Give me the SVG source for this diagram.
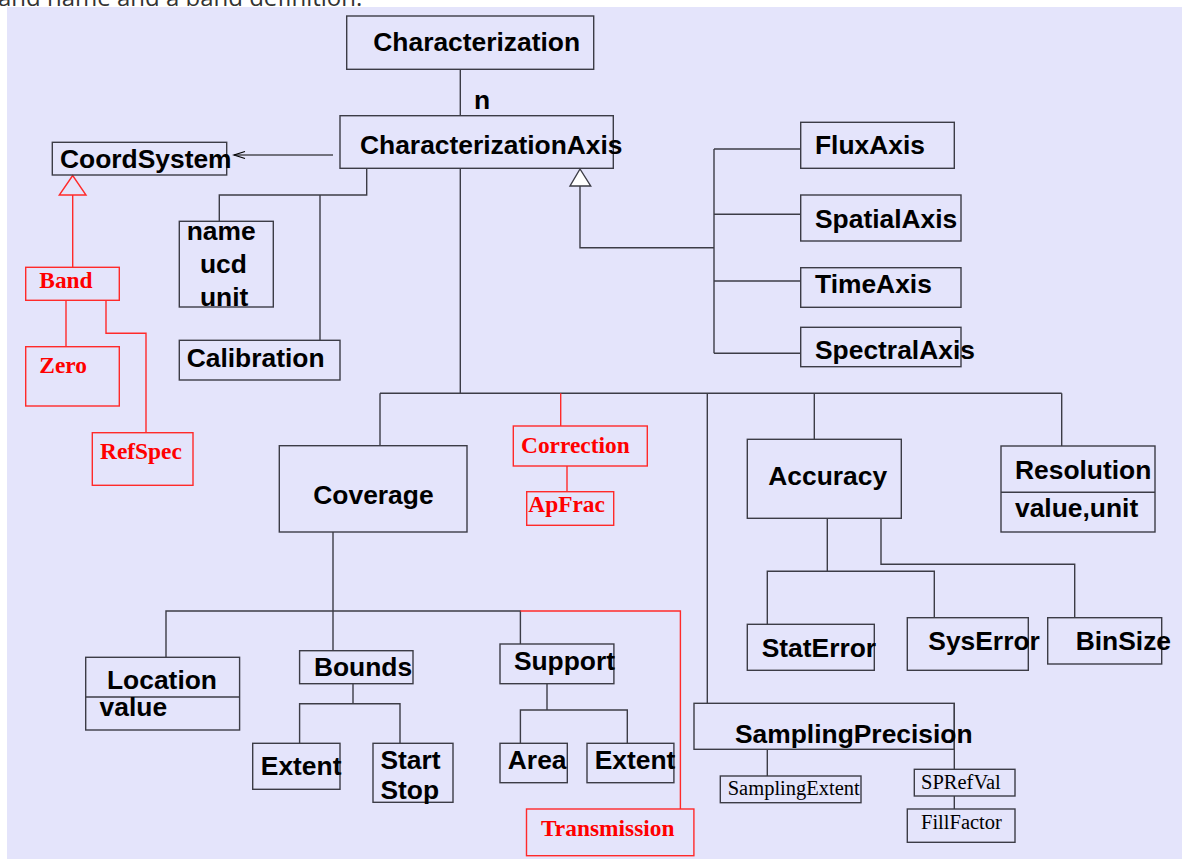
<svg xmlns="http://www.w3.org/2000/svg" width="1182" height="859" viewBox="0 0 1182 859">
<style>
.bx{fill:none;stroke:#3c3c46;stroke-width:1.4}
.rb{fill:none;stroke:#ff2a2a;stroke-width:1.4}
.ln{fill:none;stroke:#3c3c46;stroke-width:1.4}
.rl{fill:none;stroke:#ff2a2a;stroke-width:1.4}
.t{font-family:"Liberation Sans",Arial,sans-serif;font-weight:bold;font-size:26.4px;fill:#000}
.r{font-family:"Liberation Serif","Times New Roman",serif;font-weight:bold;font-size:23.4px;fill:#ff0000}
.s{font-family:"Liberation Serif","Times New Roman",serif;font-size:20.5px;fill:#000}
</style>
<rect x="0" y="0" width="1182" height="859" fill="#ffffff"/>
<rect x="7" y="7" width="1175" height="852" fill="#e4e4fb"/>
<text x="-2" y="6" font-family="'Open Sans','Noto Sans',sans-serif" font-size="24" fill="#333">and name and a band definition.</text>

<g id="connectors">
<line class="ln" x1="460.3" y1="69.3" x2="460.3" y2="115.7"/>
<text class="t" x="474" y="109">n</text>
<line x1="333" y1="155" x2="234" y2="155" stroke="#000" stroke-width="1.2"/>
<polyline points="245,151.5 234,155 245,158.5" fill="none" stroke="#000" stroke-width="1.2"/>
<polyline class="rl" points="72.7,195 72.7,267.3"/>
<polygon points="72.7,175.5 59.3,195 86,195" fill="none" stroke="#ff2a2a" stroke-width="1.4"/>
<line class="rl" x1="66" y1="300.3" x2="66" y2="346.7"/>
<polyline class="rl" points="106,300.3 106,333.3 146,333.3 146,432.7"/>
<polyline class="ln" points="366.7,168.3 366.7,195 219.3,195 219.3,221.3"/>
<line class="ln" x1="320" y1="195" x2="320" y2="340.3"/>
<polygon points="580,169 570,186 590.7,186" fill="#fff" stroke="#3c3c46" stroke-width="1.4"/>
<polyline class="ln" points="580,186 580,247.7 714,247.7"/>
<line class="ln" x1="714" y1="149" x2="714" y2="353.3"/>
<line class="ln" x1="714" y1="149" x2="800.7" y2="149"/>
<line class="ln" x1="714" y1="214.3" x2="800.7" y2="214.3"/>
<line class="ln" x1="714" y1="281" x2="800.7" y2="281"/>
<line class="ln" x1="714" y1="353.3" x2="800.7" y2="353.3"/>
<line class="ln" x1="460.3" y1="168.3" x2="460.3" y2="393.3"/>
<line class="ln" x1="380" y1="393.3" x2="1061.7" y2="393.3"/>
<line class="ln" x1="380" y1="393.3" x2="380" y2="446"/>
<line class="rl" x1="560.7" y1="393.3" x2="560.7" y2="426"/>
<line class="rl" x1="567" y1="466" x2="567" y2="491.7"/>
<line class="ln" x1="707.3" y1="393.3" x2="707.3" y2="703.3"/>
<line class="ln" x1="814.3" y1="393.3" x2="814.3" y2="439.3"/>
<line class="ln" x1="1061.7" y1="393.3" x2="1061.7" y2="446"/>
<polyline class="ln" points="827.3,518.3 827.3,571.3"/>
<polyline class="ln" points="767.3,624.3 767.3,571.3 934.3,571.3 934.3,617.7"/>
<polyline class="ln" points="881,518.3 881,564.3 1074.7,564.3 1074.7,617.7"/>
<line class="ln" x1="333" y1="532" x2="333" y2="650.7"/>
<polyline class="ln" points="166,657.3 166,611 520.4,611 520.4,644"/>
<polyline class="rl" points="520.4,611 680.4,611 680.4,809"/>
<line class="ln" x1="353" y1="683.7" x2="353" y2="703.7"/>
<polyline class="ln" points="299.6,743.3 299.6,703.7 400,703.7 400,743.3"/>
<line class="ln" x1="547" y1="683.7" x2="547" y2="710"/>
<polyline class="ln" points="520.4,743.3 520.4,710 627.3,710 627.3,743.3"/>
<line class="ln" x1="954.3" y1="703.3" x2="954.3" y2="769.3"/>
<line class="ln" x1="767.3" y1="749.3" x2="767.3" y2="776"/>
<line class="ln" x1="954.3" y1="796" x2="954.3" y2="809"/>
</g>

<g id="characterization"><rect class="bx" x="346.7" y="16" width="247" height="53.3"/><text class="t" x="373.3" y="50.7">Characterization</text></g>
<g id="characterizationaxis"><rect class="bx" x="340" y="115.7" width="273.3" height="52.6"/><text class="t" x="360" y="154.3">CharacterizationAxis</text></g>
<g id="coordsystem"><rect class="bx" x="52.3" y="142.3" width="174.4" height="32.7"/><text class="t" x="60" y="168.3">CoordSystem</text></g>
<g id="band"><rect class="rb" x="25.7" y="267.3" width="93.6" height="33"/><text class="r" x="39.3" y="287.7">Band</text></g>
<g id="zero"><rect class="rb" x="25.7" y="346.7" width="93.6" height="59.3"/><text class="r" x="39.3" y="372.7">Zero</text></g>
<g id="refspec"><rect class="rb" x="92.3" y="432.7" width="100.7" height="52.6"/><text class="r" x="100" y="459">RefSpec</text></g>
<g id="nameucdunit"><rect class="bx" x="179.3" y="221.3" width="94" height="85.7"/><text class="t" x="186.7" y="240">name</text><text class="t" x="200" y="273.3">ucd</text><text class="t" x="200" y="306">unit</text></g>
<g id="calibration"><rect class="bx" x="179.3" y="340.3" width="160.7" height="39.7"/><text class="t" x="186.7" y="366.7">Calibration</text></g>
<g id="fluxaxis"><rect class="bx" x="800.7" y="122.3" width="153.6" height="46"/><text class="t" x="815" y="154.3">FluxAxis</text></g>
<g id="spatialaxis"><rect class="bx" x="800.7" y="195" width="160.3" height="46"/><text class="t" x="815" y="227.7">SpatialAxis</text></g>
<g id="timeaxis"><rect class="bx" x="800.7" y="267.7" width="160.3" height="39.6"/><text class="t" x="815" y="293.3">TimeAxis</text></g>
<g id="spectralaxis"><rect class="bx" x="800.7" y="327.3" width="160.3" height="39.4"/><text class="t" x="815" y="359.3">SpectralAxis</text></g>
<g id="coverage"><rect class="bx" x="279.3" y="445.7" width="187.7" height="86.3"/><text class="t" x="313.3" y="504.3">Coverage</text></g>
<g id="correction"><rect class="rb" x="513.3" y="426" width="134" height="40"/><text class="r" x="521" y="452.7">Correction</text></g>
<g id="apfrac"><rect class="rb" x="526.7" y="491.7" width="87" height="33.6"/><text class="r" x="528.3" y="511.7">ApFrac</text></g>
<g id="accuracy"><rect class="bx" x="747.3" y="439.3" width="154" height="79"/><text class="t" x="768.3" y="485.3">Accuracy</text></g>
<g id="resolution"><rect class="bx" x="1001" y="446" width="154" height="86"/><line class="ln" x1="1001" y1="492.3" x2="1155" y2="492.3"/><text class="t" x="1015" y="478.7">Resolution</text><text class="t" x="1015" y="517.3">value,unit</text></g>
<g id="staterror"><rect class="bx" x="747.3" y="624.3" width="127" height="46"/><text class="t" x="761.7" y="656.7">StatError</text></g>
<g id="syserror"><rect class="bx" x="907.3" y="617.7" width="121" height="52.6"/><text class="t" x="928.3" y="650">SysError</text></g>
<g id="binsize"><rect class="bx" x="1047.7" y="617.7" width="114" height="46.3"/><text class="t" x="1075.7" y="650">BinSize</text></g>
<g id="location"><rect class="bx" x="85.7" y="657.3" width="153.9" height="72.7"/><line class="ln" x1="85.7" y1="697" x2="239.6" y2="697"/><text class="t" x="107" y="689.3">Location</text><text class="t" x="99.6" y="716">value</text></g>
<g id="bounds"><rect class="bx" x="299.6" y="650.7" width="113.4" height="33"/><text class="t" x="313.9" y="676">Bounds</text></g>
<g id="support"><rect class="bx" x="500" y="644" width="113.9" height="39.7"/><text class="t" x="513.9" y="670">Support</text></g>
<g id="extent1"><rect class="bx" x="252.7" y="743.3" width="87.3" height="46"/><text class="t" x="260.8" y="775">Extent</text></g>
<g id="startstop"><rect class="bx" x="373" y="743.3" width="80" height="59"/><text class="t" x="380.4" y="769.3">Start</text><text class="t" x="380.4" y="799.3">Stop</text></g>
<g id="area"><rect class="bx" x="500" y="743.3" width="67.3" height="39.4"/><text class="t" x="507.8" y="769.3">Area</text></g>
<g id="extent2"><rect class="bx" x="587" y="743.3" width="86.9" height="39.4"/><text class="t" x="594.7" y="769.3">Extent</text></g>
<g id="transmission"><rect class="rb" x="526.5" y="809" width="167.4" height="46.7"/><text class="r" x="541" y="836">Transmission</text></g>
<g id="samplingprecision"><rect class="bx" x="694" y="703.3" width="260.3" height="46"/><text class="t" x="735" y="742.7">SamplingPrecision</text></g>
<g id="samplingextent"><rect class="bx" x="720.3" y="776" width="140.7" height="26.7"/><text class="s" x="727.7" y="795">SamplingExtent</text></g>
<g id="sprefval"><rect class="bx" x="914.3" y="769.3" width="100.7" height="26.7"/><text class="s" x="921" y="789.3">SPRefVal</text></g>
<g id="fillfactor"><rect class="bx" x="907.3" y="809" width="107.7" height="33.3"/><text class="s" x="921" y="829.3">FillFactor</text></g>
</svg>
